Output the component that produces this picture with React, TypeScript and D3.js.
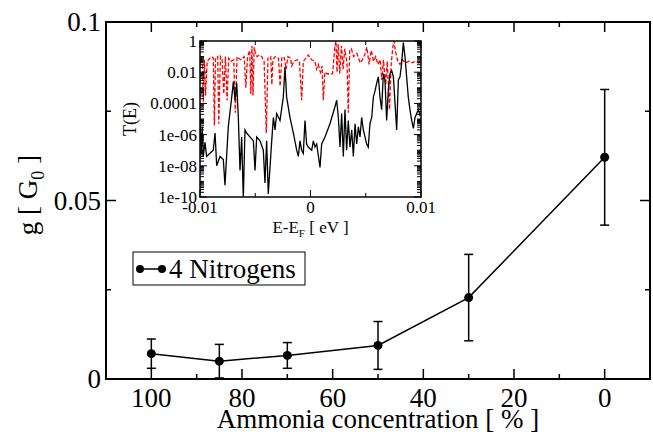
import React from 'react';
import * as d3 from 'd3';

const W = 653;
const H = 435;
const MAIN = { left: 106, right: 650, top: 22, bottom: 379 };
const INSET = { left: 200, right: 421, top: 41, bottom: 197 };
const FONT = "'Liberation Serif'";

// main panel: conductance vs ammonia concentration
const concentration = [100, 85, 70, 50, 30, 0];
const conductance = [0.0071, 0.005, 0.0066, 0.0094, 0.0228, 0.0621];
const conductanceErr = [0.0041, 0.0047, 0.0036, 0.0067, 0.0121, 0.019];

const xMajor = [100, 80, 60, 40, 20, 0];
const xMinor = [90, 70, 50, 30, 10];
const yMajor = [0, 0.05, 0.1];
const yMajorLabels = ['0', '0.05', '0.1'];
const yMinor = [0.025, 0.075];

// inset: transmission (log10) vs energy, in meV
const redE = [-10, -9.8, -9.7, -9.6, -9.5, -9.35, -9.1, -8.94, -8.8, -8.7, -8.6, -8.4, -8.3, -8.15, -8.0, -7.85, -7.7, -7.55, -7.4, -7.2, -6.95, -6.8, -6.65, -6.5, -6.3, -6.0, -5.85, -5.7, -5.5, -5.4, -5.3, -5.2, -5.1, -5.0, -4.85, -4.6, -4.4, -4.3, -4.2, -4.0, -3.85, -3.6, -3.5, -3.4, -3.2, -2.9, -2.75, -2.6, -2.4, -2.2, -2.05, -1.8, -1.7, -1.5, -1.2, -1.0, -0.8, -0.65, -0.4, -0.2, 0.1, 0.4, 0.55, 0.7, 0.9, 1.05, 1.16, 1.3, 1.5, 2.0, 2.2, 2.3, 2.4, 2.5, 2.65, 2.8, 2.95, 3.1, 3.3, 3.42, 3.55, 3.7, 3.9, 4.2, 4.5, 4.7, 4.9, 5.1, 5.3, 5.5, 5.7, 5.9, 6.1, 6.3, 6.45, 6.6, 6.8, 6.95, 7.15, 7.3, 7.45, 7.55, 7.7, 7.9, 8.1, 8.3, 8.6, 8.9, 9.2, 9.5, 9.8, 10];
const redLogT = [-1.4, -1.1, -3.9, -1.2, -3.5, -1.3, -1.1, -1.0, -1.1, -5.4, -1.1, -1.0, -5.3, -1.0, -1.2, -3.4, -1.0, -3.8, -1.1, -1.3, -1.2, -4.6, -1.0, -1.1, -1.2, -1.0, -3.0, -1.0, -0.6, -3.4, -0.3, -3.5, -0.4, -0.7, -1.0, -0.9, -1.0, -1.2, -1.3, -5.9, -1.1, -1.0, -2.8, -1.2, -1.0, -1.1, -2.9, -1.1, -1.0, -1.8, -1.0, -1.1, -1.6, -1.3, -1.2, -1.3, -3.8, -1.3, -1.1, -0.9, -1.2, -1.3, -1.8, -1.5, -2.0, -1.6, -3.8, -2.0, -2.1, -2.1, -0.4, 0.0, -2.0, -0.2, -2.1, -0.3, -1.8, -0.5, -1.4, -4.6, -0.6, -0.5, -1.0, -0.8, -1.4, -1.2, -0.9, -0.4, -1.5, -0.6, -1.3, -1.0, -1.5, -1.2, -2.5, -1.2, -2.8, -1.3, -4.4, -1.5, -0.4, 0.0, -0.7, -1.3, -1.5, -1.2, -1.4, -1.3, -1.4, -1.3, -1.4, -1.3];

const blackE = [-10, -9.9, -9.8, -9.7, -9.55, -9.4, -9.1, -8.8, -8.64, -8.49, -8.19, -7.89, -7.74, -7.44, -7.13, -6.98, -6.83, -6.68, -6.53, -6.38, -6.23, -6.08, -5.93, -5.78, -5.48, -5.17, -5.02, -4.87, -4.57, -4.27, -4.12, -3.97, -3.82, -3.51, -3.36, -3.21, -3.06, -2.76, -2.46, -2.31, -2.16, -1.86, -1.55, -1.25, -1.1, -0.95, -0.8, -0.65, -0.5, -0.35, -0.2, 0.11, 0.26, 0.41, 0.56, 0.86, 1.01, 1.31, 1.76, 2.22, 2.37, 2.52, 2.67, 2.82, 2.97, 3.12, 3.27, 3.42, 3.57, 3.73, 3.88, 4.03, 4.18, 4.33, 4.48, 4.63, 4.78, 4.93, 5.08, 5.23, 5.38, 5.54, 5.69, 5.84, 5.99, 6.14, 6.29, 6.44, 6.59, 6.74, 6.89, 7.04, 7.19, 7.35, 7.5, 7.65, 7.8, 7.95, 8.1, 8.25, 8.4, 8.55, 8.7, 8.85, 9.0, 9.16, 9.31, 9.46, 9.61, 9.76, 9.91, 10];
const blackLogT = [-4.7, -7.2, -5.5, -7.4, -6.5, -7.4, -7.2, -7.0, -5.9, -8.0, -7.4, -7.6, -9.25, -5.5, -3.6, -2.6, -3.8, -2.7, -4.9, -8.3, -6.15, -10.1, -5.7, -5.9, -6.15, -6.4, -8.3, -6.15, -6.4, -7.0, -9.1, -6.4, -9.8, -6.4, -4.9, -5.7, -4.65, -5.1, -3.6, -1.65, -3.6, -4.9, -5.9, -7.0, -7.4, -6.4, -7.0, -7.2, -5.1, -6.6, -6.8, -7.0, -6.4, -6.8, -6.6, -8.1, -6.6, -6.15, -5.3, -4.2, -3.8, -4.9, -6.8, -4.65, -7.4, -4.4, -7.0, -5.1, -6.8, -5.7, -7.4, -5.3, -6.6, -5.5, -6.15, -4.9, -5.7, -6.15, -6.6, -6.8, -5.3, -4.9, -3.6, -3.2, -2.7, -2.3, -3.6, -4.4, -2.1, -2.5, -5.1, -3.2, -2.1, -1.9, -2.3, -4.0, -5.7, -2.5, -2.3, -1.4, -0.1, -1.0, -2.3, -3.6, -4.4, -5.1, -5.6, -4.9, -4.65, -4.4, -4.75, -4.6];

const eMajor = [-10, 0, 10];
const eMajorLabels = ['-0.01', '0', '0.01'];
const eMinor = [-5, 5];
const logMajor = [0, -2, -4, -6, -8, -10];
const logMajorLabels = ['1', '0.01', '0.0001', '1e-06', '1e-08', '1e-10'];

const big = { fontFamily: FONT, fontSize: 27 };
const small = { fontFamily: FONT, fontSize: 17 };

export default function App() {
  const x = d3.scaleLinear().domain([110, -10]).range([MAIN.left, MAIN.right]);
  const y = d3.scaleLinear().domain([0, 0.1]).range([MAIN.bottom, MAIN.top]);
  const ix = d3.scaleLinear().domain([-10, 10]).range([INSET.left, INSET.right]);
  const iy = d3.scaleLinear().domain([0, -10]).range([INSET.top, INSET.bottom]);

  const mainLine = d3.line<number>().x((d, i) => x(concentration[i])).y((d) => y(d));
  const redLine = d3.line<number>().x((d) => ix(d)).y((d, i) => iy(redLogT[i]));
  const blackLine = d3.line<number>().x((d) => ix(d)).y((d, i) => iy(blackLogT[i]));

  // log minor ticks: k * 10^n
  const logMinor: number[] = [];
  for (let n = -10; n < 0; n++) {
    for (let k = 2; k <= 9; k++) logMinor.push(n + Math.log10(k));
  }
  const oddDecades = [-1, -3, -5, -7, -9];

  return (
    <svg width={W} height={H} style={{ position: 'absolute', left: 0, top: 0, background: '#fff' }}>
      <rect x={0} y={0} width={W} height={H} fill='#fff' />

      {/* main frame and ticks */}
      <g stroke='#000' strokeWidth={1.5}>
        {xMajor.map((t) => (
          <g key={'xm' + t}>
            <line x1={x(t)} x2={x(t)} y1={MAIN.bottom} y2={MAIN.bottom - 10} />
            <line x1={x(t)} x2={x(t)} y1={MAIN.top} y2={MAIN.top + 10} />
          </g>
        ))}
        {xMinor.map((t) => (
          <g key={'xn' + t}>
            <line x1={x(t)} x2={x(t)} y1={MAIN.bottom} y2={MAIN.bottom - 5} />
            <line x1={x(t)} x2={x(t)} y1={MAIN.top} y2={MAIN.top + 5} />
          </g>
        ))}
        {yMajor.map((t) => (
          <g key={'ym' + t}>
            <line x1={MAIN.left} x2={MAIN.left + 10} y1={y(t)} y2={y(t)} />
            <line x1={MAIN.right} x2={MAIN.right - 10} y1={y(t)} y2={y(t)} />
          </g>
        ))}
        {yMinor.map((t) => (
          <g key={'yn' + t}>
            <line x1={MAIN.left} x2={MAIN.left + 5} y1={y(t)} y2={y(t)} />
            <line x1={MAIN.right} x2={MAIN.right - 5} y1={y(t)} y2={y(t)} />
          </g>
        ))}
      </g>
      <rect x={MAIN.left} y={MAIN.top} width={MAIN.right - MAIN.left} height={MAIN.bottom - MAIN.top} fill='none' stroke='#000' strokeWidth={2} />

      <g fill='#000'>
        {xMajor.map((t) => (
          <text key={'xl' + t} x={x(t)} y={407} textAnchor='middle' style={big}>{t}</text>
        ))}
        {yMajor.map((t, i) => (
          <text key={'yl' + t} x={101} y={y(t) + 9} textAnchor='end' style={big}>{yMajorLabels[i]}</text>
        ))}
        <text x={(MAIN.left + MAIN.right) / 2} y={428} textAnchor='middle' style={big}>Ammonia concentration [ % ]</text>
        <text transform={`translate(37,195) rotate(-90)`} textAnchor='middle' style={big}>
          g [ G<tspan style={{ fontSize: 18 }} dy={7}>0</tspan><tspan dy={-7}> ]</tspan>
        </text>
      </g>

      {/* main data */}
      <path d={mainLine(conductance) || ''} fill='none' stroke='#000' strokeWidth={1.5} />
      <g stroke='#000' strokeWidth={1.5}>
        {conductance.map((v, i) => {
          const cx = x(concentration[i]);
          const top = y(v + conductanceErr[i]);
          const bot = y(v - conductanceErr[i]);
          return (
            <g key={'e' + i}>
              <line x1={cx} x2={cx} y1={top} y2={bot} />
              <line x1={cx - 4.5} x2={cx + 4.5} y1={top} y2={top} />
              <line x1={cx - 4.5} x2={cx + 4.5} y1={bot} y2={bot} />
            </g>
          );
        })}
      </g>
      {conductance.map((v, i) => (
        <circle key={'p' + i} cx={x(concentration[i])} cy={y(v)} r={4.5} fill='#000' />
      ))}

      {/* legend */}
      <rect x={133} y={252} width={172} height={33} fill='#fff' stroke='#000' strokeWidth={1} />
      <line x1={140} x2={162} y1={269} y2={269} stroke='#000' strokeWidth={1.5} />
      <circle cx={140} cy={269} r={4} fill='#000' />
      <circle cx={162} cy={269} r={4} fill='#000' />
      <text x={169} y={278} style={big}>4 Nitrogens</text>

      {/* inset */}
      <rect x={INSET.left} y={INSET.top} width={INSET.right - INSET.left} height={INSET.bottom - INSET.top} fill='#fff' />
      <defs>
        <clipPath id='insetClip'>
          <rect x={INSET.left} y={INSET.top} width={INSET.right - INSET.left} height={INSET.bottom - INSET.top} />
        </clipPath>
      </defs>
      <g clipPath='url(#insetClip)'>
        <path d={redLine(redE) || ''} fill='none' stroke='#ff0000' strokeWidth={1.3} strokeDasharray='4,2' />
        <path d={blackLine(blackE) || ''} fill='none' stroke='#000' strokeWidth={1.3} />
      </g>
      <g stroke='#000' strokeWidth={1}>
        {logMajor.map((t) => (
          <g key={'lm' + t}>
            <line x1={INSET.left} x2={INSET.left + 7} y1={iy(t)} y2={iy(t)} />
            <line x1={INSET.right} x2={INSET.right - 7} y1={iy(t)} y2={iy(t)} />
          </g>
        ))}
        {oddDecades.map((t) => (
          <g key={'lo' + t}>
            <line x1={INSET.left} x2={INSET.left + 4} y1={iy(t)} y2={iy(t)} />
            <line x1={INSET.right} x2={INSET.right - 4} y1={iy(t)} y2={iy(t)} />
          </g>
        ))}
        {logMinor.map((t, i) => (
          <g key={'ln' + i}>
            <line x1={INSET.left} x2={INSET.left + 4} y1={iy(t)} y2={iy(t)} />
            <line x1={INSET.right} x2={INSET.right - 4} y1={iy(t)} y2={iy(t)} />
          </g>
        ))}
        {eMajor.map((t) => (
          <g key={'em' + t}>
            <line x1={ix(t)} x2={ix(t)} y1={INSET.bottom} y2={INSET.bottom - 7} />
            <line x1={ix(t)} x2={ix(t)} y1={INSET.top} y2={INSET.top + 7} />
          </g>
        ))}
        {eMinor.map((t) => (
          <g key={'en' + t}>
            <line x1={ix(t)} x2={ix(t)} y1={INSET.bottom} y2={INSET.bottom - 4} />
            <line x1={ix(t)} x2={ix(t)} y1={INSET.top} y2={INSET.top + 4} />
          </g>
        ))}
      </g>
      <rect x={INSET.left} y={INSET.top} width={INSET.right - INSET.left} height={INSET.bottom - INSET.top} fill='none' stroke='#000' strokeWidth={1.5} />
      <g fill='#000'>
        {logMajor.map((t, i) => (
          <text key={'ll' + t} x={197} y={iy(t) + 6} textAnchor='end' style={small}>{logMajorLabels[i]}</text>
        ))}
        {eMajor.map((t, i) => (
          <text key={'el' + t} x={ix(t)} y={213} textAnchor='middle' style={small}>{eMajorLabels[i]}</text>
        ))}
        <text x={ix(0)} y={233} textAnchor='middle' style={small}>
          E-E<tspan style={{ fontSize: 11 }} dy={4}>F</tspan><tspan dy={-4}> [ eV ]</tspan>
        </text>
        <text transform={`translate(136,${(INSET.top + INSET.bottom) / 2}) rotate(-90)`} textAnchor='middle' style={{ fontFamily: FONT, fontSize: 18 }}>T(E)</text>
      </g>
    </svg>
  );
}
